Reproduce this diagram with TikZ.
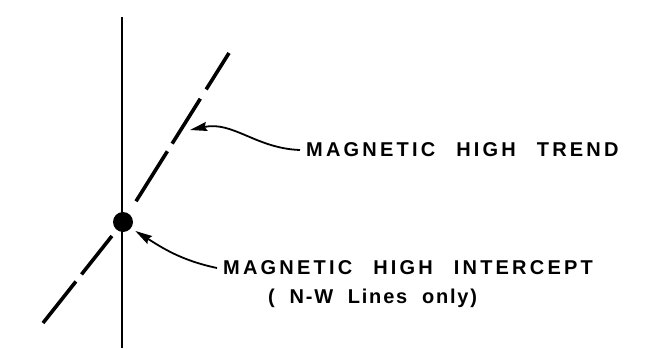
\documentclass[tikz,border=0pt]{standalone}
\usepackage{fontspec}
\newfontfamily\leroy[LetterSpace=16,WordSpace=2.4]{Liberation Sans Bold}
\newfontfamily\leroynote[LetterSpace=9,WordSpace=2]{Liberation Sans Bold}
\usetikzlibrary{arrows.meta}

\begin{document}
\begin{tikzpicture}[
    x=1pt, y=-1pt,
    axis/.style={line width=1.6pt},
    trendline/.style={line width=3.6pt},
    pointer/.style={-{Stealth[length=17pt,width=9pt,inset=2pt]},line width=1.8pt},
    spot/.style={circle,fill=black,minimum size=20pt,inner sep=0pt},
    caption/.style={font=\leroy\fontsize{20}{24}\selectfont,inner sep=6pt,anchor=west}
]
\useasboundingbox (0,0) rectangle (663,348);

% Linea N-S
\coordinate (axtop) at (122,17);
\coordinate (axbot) at (122,348);
\draw[axis] (axtop) -- (axbot);

% Maximo magnetico
\node[spot] (high) at (123,222) {};

% Tendencia (discontinua)
\coordinate (trendtop) at (229,53);
\coordinate (trendbot) at (43,323);
\draw[trendline,dash pattern=on 43pt off 11pt on 53pt off 9pt on 59pt off 30pt] (trendtop) -- (high);
\draw[trendline,dash pattern=on 53pt off 9pt on 49pt off 30pt] (trendbot) -- (high);

% Textos
\node[caption] (trendtxt) at (300,150) {MAGNETIC HIGH TREND};
\node[caption] (intertxt) at (217,268) {MAGNETIC HIGH INTERCEPT};
\node[caption,font=\leroynote\fontsize{20}{24}\selectfont] (notetxt) at (262,298) {( N-W Lines only)};

% Flechas
\coordinate (trendpt) at (190,130);
\draw[pointer] (trendtxt.west) to[out=178,in=12] (trendpt);
\draw[pointer,shorten >=5pt] (intertxt.west) to[out=168,in=-32] (high.-38);

\end{tikzpicture}
\end{document}
